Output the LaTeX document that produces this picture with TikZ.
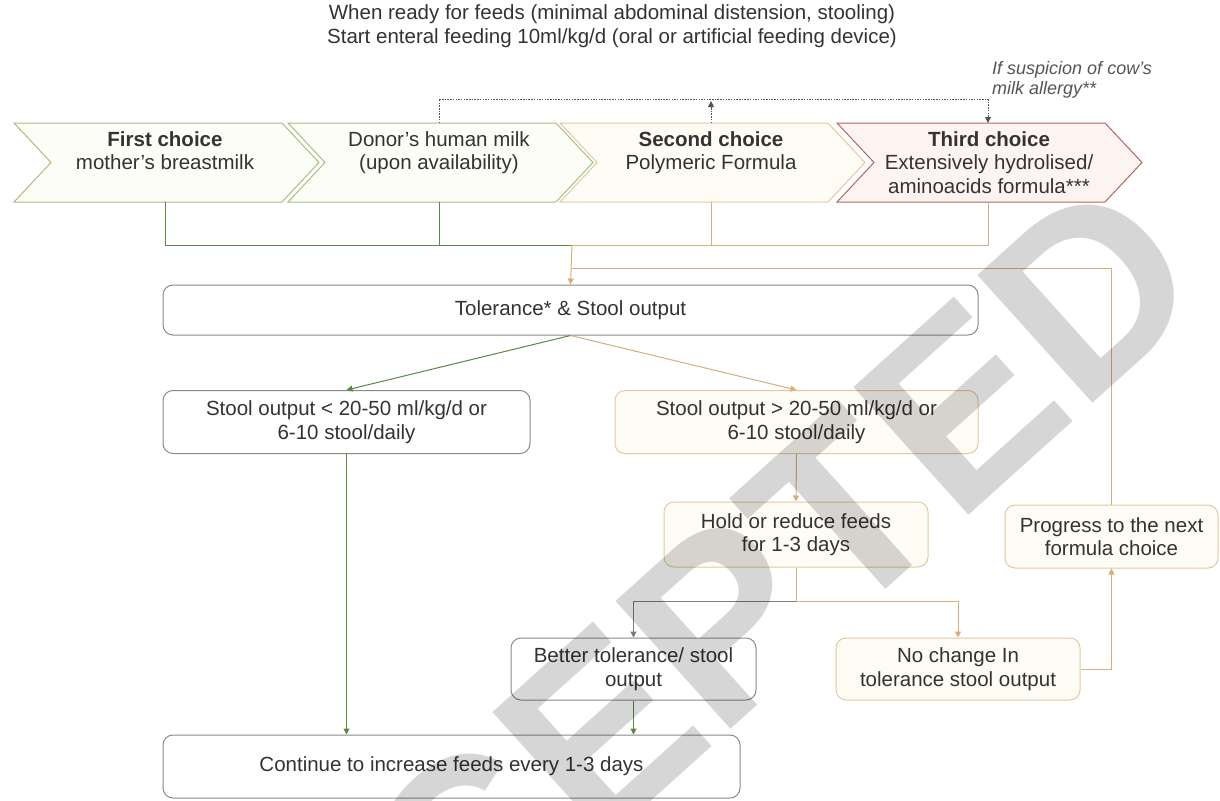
\documentclass[tikz,border=0pt]{standalone}
\usepackage{fontspec}
\setmainfont{Liberation Sans}
\usetikzlibrary{arrows.meta}
\definecolor{txt}{HTML}{333333}
\definecolor{grn}{HTML}{5B8740}
\definecolor{grnl}{HTML}{A9C080}
\definecolor{grnf}{HTML}{FCFDF7}
\definecolor{tanc}{HTML}{D4B07A}
\definecolor{tanl}{HTML}{E3C9A0}
\definecolor{tanf}{HTML}{FFFCF6}
\definecolor{redb}{HTML}{B0685E}
\definecolor{redf}{HTML}{FDF4F2}
\definecolor{boxg}{HTML}{8A8A8A}
\definecolor{dotc}{HTML}{555555}
\tikzset{
  base/.style={font=\fontsize{20.5}{23.5}\selectfont, text=txt, align=center},
  gbox/.style={base, draw=boxg, line width=1pt, rounded corners=10pt, fill=white, inner sep=0pt},
  tbox/.style={base, draw=tanl, line width=1pt, rounded corners=10pt, fill=tanf, inner sep=0pt},
  chevtext/.style={base, anchor=north, inner sep=0pt},
  tip/.style={-{Triangle[length=6pt,width=6pt]}},
  gline/.style={draw=grn, line width=1pt},
  tline/.style={draw=tanc, line width=1pt},
  kline/.style={draw=boxg!90!black, line width=1pt},
  dline/.style={draw=dotc, line width=0.9pt, dash pattern=on 1.5pt off 1.2pt},
}
\newcommand{\chevron}[4]{%
  \draw[draw=#3, fill=#4, line width=1pt] (#1,123) -- ++(268,0) -- ++(37,39.5) -- ++(-37,39.5) -- ++(-268,0) -- ++(37,-39.5) -- cycle;
  \coordinate (#2t) at (#1+151,123);
  \coordinate (#2b) at (#1+151,202);
}
\begin{document}
\begin{tikzpicture}[x=1pt,y=-1pt]
\useasboundingbox[fill=white] (0,0) rectangle (1220,800);

% title
\node[base] (title) at (612,26) {When ready for feeds (minimal abdominal distension, stooling)\\Start enteral feeding 10ml/kg/d (oral or artificial feeding device)};
\node[base, font=\fontsize{18}{20}\selectfont\itshape, text=dotc, align=left, anchor=south west, inner sep=0pt] (note) at (992,98) {If suspicion of cow’s\\milk allergy**};

% chevrons
\chevron{14}{c1}{grnl}{grnf}
\chevron{288}{c2}{grnl}{grnf}
\chevron{560}{c3}{tanl}{tanf}
\chevron{837}{c4}{redb}{redf}
\node[chevtext] (t1) at (165,131) {\textbf{First choice}\\mother’s breastmilk};
\node[chevtext] (t2) at (439,131) {Donor’s human milk\\(upon availability)};
\node[chevtext] (t3) at (711,131) {\textbf{Second choice}\\Polymeric Formula};
\node[chevtext] (t4) at (989,131) {\textbf{Third choice}\\Extensively hydrolised/\\aminoacids formula***};

% boxes
\node[gbox, minimum width=815pt, minimum height=50pt] (tol) at (570.5,310) {Tolerance* \& Stool output};
\node[gbox, minimum width=367pt, minimum height=63pt] (lbox) at (346.5,422) {Stool output < 20-50 ml/kg/d or\\6-10 stool/daily};
\node[tbox, minimum width=363pt, minimum height=63pt] (rbox) at (796.5,422) {Stool output > 20-50 ml/kg/d or\\6-10 stool/daily};
\node[tbox, minimum width=264pt, minimum height=65pt] (hold) at (796,534.5) {Hold or reduce feeds\\for 1-3 days};
\node[tbox, minimum width=213pt, minimum height=63pt] (prog) at (1111.5,536.5) {Progress to the next\\formula choice};
\node[gbox, minimum width=245pt, minimum height=62pt] (better) at (633.5,669) {Better tolerance/ stool\\output};
\node[tbox, minimum width=244pt, minimum height=62pt] (noch) at (958,669) {No change In\\tolerance stool output};
\node[gbox, minimum width=577pt, minimum height=63pt] (cont) at (451.5,766.5) {Continue to increase feeds every 1-3 days};

% junctions
\coordinate (jn) at (572,245);
\coordinate (rj) at (572,268);
\coordinate (dl) at (439,99);
\coordinate (dr) at (988,99);
\coordinate (br) at (796,601);

% dotted allergy path
\draw[dline] (c2t) -- (dl) -- (dr);
\draw[dline, tip] (dr) -- (c4t);
\draw[dline, tip, shorten >=2pt] (c3t) -- (c3t |- dl);

% drops to tolerance
\draw[gline] (c1b) |- (jn);
\draw[gline] (c2b) -- (c2b |- jn);
\draw[tline] (c4b) |- (jn);
\draw[tline] (c3b) -- (c3b |- jn);
\draw[tline, tip] (jn) -- (tol.north);
\draw[tline] (prog.north) |- (rj);

% branches
\draw[gline, tip] (tol.south) -- (lbox.north);
\draw[tline, tip] (tol.south) -- (rbox.north);
\draw[gline, tip] (lbox.south) -- (lbox.south |- cont.north);
\draw[tline, tip] (rbox.south) -- (hold.north);
\draw[tline] (hold.south) -- (br);
\draw[kline, tip] (br) -| (better.north);
\draw[tline, tip] (br) -| (noch.north);
\draw[gline, tip] (better.south) -- (better.south |- cont.north);
\draw[tline, tip] (noch.east) -| (prog.south);

% watermark
\node[font=\fontsize{250}{250}\selectfont\bfseries, text=black, text opacity=0.16, rotate=42] (wm) at (646,690) {ACCEPTED};
\end{tikzpicture}
\end{document}
